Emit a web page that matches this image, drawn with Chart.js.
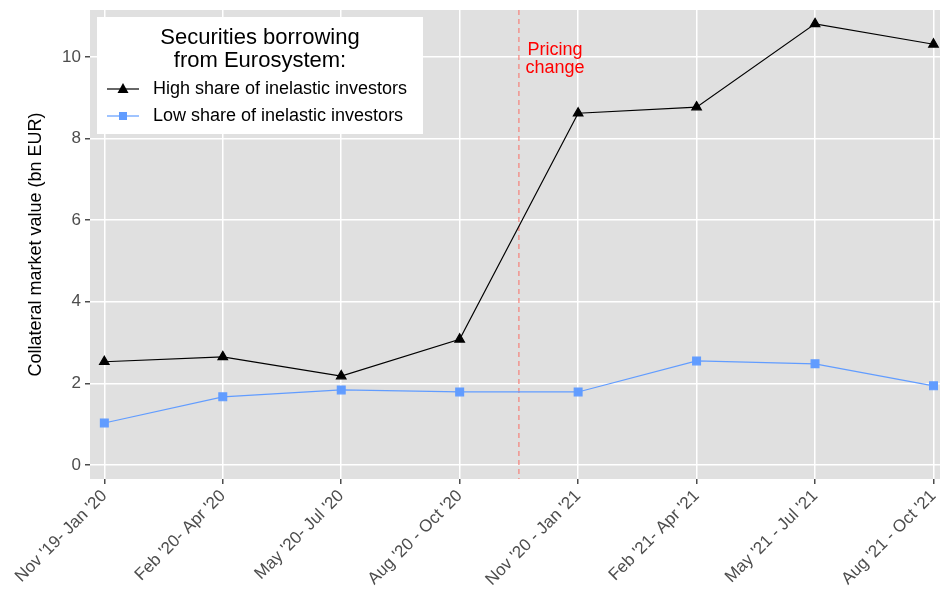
<!DOCTYPE html>
<html>
<head>
<meta charset="utf-8">
<script src="https://cdn.jsdelivr.net/npm/chart.js@4"></script>
<style>
  html, body { margin: 0; padding: 0; background: #fff; }
  #wrap { width: 940px; height: 592px; }
</style>
</head>
<body>
<div id="wrap"><canvas id="chart" width="940" height="592"></canvas></div>
<script>
const categories = ["Nov '19- Jan '20", "Feb '20- Apr '20", "May '20- Jul '20", "Aug '20 - Oct '20",
                    "Nov '20 - Jan '21", "Feb '21- Apr '21", "May '21 - Jul '21", "Aug '21 - Oct '21"];
const highShare = [2.53, 2.65, 2.18, 3.08, 8.62, 8.77, 10.81, 10.31];
const lowShare = [1.03, 1.67, 1.84, 1.79, 1.79, 2.55, 2.48, 1.94];
const yTicks = [0, 2, 4, 6, 8, 10];
const pricingChangeAt = 3.5;

const FONT = "'Liberation Sans', Arial, sans-serif";
const BLUE = '#619CFF';

// grey panel
const panel = {
    id: 'panel',
    beforeDraw(chart) {
        const a = chart.chartArea;
        const ctx = chart.ctx;
        ctx.save();
        ctx.fillStyle = '#E0E0E0';
        ctx.fillRect(a.left, a.top, a.right - a.left, a.bottom - a.top);
        ctx.restore();
    }
};

// dashed line + label
const pricing = {
    id: 'pricing',
    beforeDatasetsDraw(chart) {
        const ctx = chart.ctx;
        const a = chart.chartArea;
        const x = chart.scales.x.getPixelForValue(pricingChangeAt);
        ctx.save();
        ctx.strokeStyle = 'rgba(248,118,109,0.9)';
        ctx.lineWidth = 1.2;
        ctx.setLineDash([5, 4]);
        ctx.beginPath();
        ctx.moveTo(x, a.top);
        ctx.lineTo(x, a.bottom);
        ctx.stroke();
        ctx.setLineDash([]);
        ctx.fillStyle = '#FF0000';
        ctx.font = '18px ' + FONT;
        ctx.textAlign = 'center';
        ctx.textBaseline = 'middle';
        ctx.fillText('Pricing', x + 36, 50);
        ctx.fillText('change', x + 36, 68);
        ctx.restore();
    }
};

// legend box
const legendBox = {
    id: 'legendBox',
    afterDraw(chart) {
        const ctx = chart.ctx;
        ctx.save();
        ctx.fillStyle = '#fff';
        ctx.fillRect(97, 17, 326, 117);
        ctx.fillStyle = '#000';
        ctx.font = '22px ' + FONT;
        ctx.textAlign = 'center';
        ctx.textBaseline = 'middle';
        ctx.fillText('Securities borrowing', 260, 38);
        ctx.fillText('from Eurosystem:', 260, 61);

        const items = [
            { label: 'High share of inelastic investors', color: '#000', y: 89, style: 'triangle' },
            { label: 'Low share of inelastic investors', color: BLUE, y: 116, style: 'rect' }
        ];
        items.forEach(it => {
            ctx.strokeStyle = it.color;
            ctx.fillStyle = it.color;
            ctx.lineWidth = 1.2;
            ctx.beginPath();
            ctx.moveTo(107, it.y);
            ctx.lineTo(139, it.y);
            ctx.stroke();
            ctx.beginPath();
            if (it.style === 'triangle') {
                ctx.moveTo(123, it.y - 6);
                ctx.lineTo(128.5, it.y + 4);
                ctx.lineTo(117.5, it.y + 4);
                ctx.closePath();
            } else {
                ctx.rect(119, it.y - 4, 8, 8);
            }
            ctx.fill();
            ctx.fillStyle = '#000';
            ctx.font = '18px ' + FONT;
            ctx.textAlign = 'left';
            ctx.fillText(it.label, 153, it.y);
        });
        ctx.restore();
    }
};

new Chart(document.getElementById('chart'), {
    type: 'line',
    data: {
        datasets: [{
            label: 'High share of inelastic investors',
            data: highShare.map((v, i) => ({ x: i, y: v })),
            borderColor: '#000',
            backgroundColor: '#000',
            borderWidth: 1.2,
            pointStyle: 'triangle',
            pointRadius: 5.5,
            pointHoverRadius: 5.5,
            tension: 0,
            clip: false
        }, {
            label: 'Low share of inelastic investors',
            data: lowShare.map((v, i) => ({ x: i, y: v })),
            borderColor: BLUE,
            backgroundColor: BLUE,
            borderWidth: 1.2,
            pointStyle: 'rect',
            pointRadius: 5.5,
            pointHoverRadius: 5.5,
            tension: 0,
            clip: false
        }]
    },
    options: {
        responsive: false,
        animation: false,
        layout: { autoPadding: false, padding: { top: 10, right: 0, left: 0, bottom: 0 } },
        plugins: {
            legend: { display: false },
            tooltip: { enabled: false }
        },
        scales: {
            x: {
                type: 'linear',
                min: -0.121,
                max: 7.055,
                afterBuildTicks(scale) {
                    scale.ticks = categories.map((c, i) => ({ value: i }));
                },
                afterFit(scale) {
                    scale.height = 113;
                    scale.paddingLeft = 0;
                    scale.paddingRight = 0;
                },
                grid: {
                    color: '#fff',
                    lineWidth: 1.5,
                    tickColor: '#4D4D4D',
                    tickLength: 5,
                    drawTicks: true
                },
                border: { display: false },
                ticks: {
                    autoSkip: false,
                    maxRotation: 45,
                    minRotation: 45,
                    padding: 2,
                    color: '#4D4D4D',
                    font: { family: FONT, size: 17 },
                    callback: v => categories[v]
                }
            },
            y: {
                min: -0.343,
                max: 11.15,
                afterBuildTicks(scale) {
                    scale.ticks = yTicks.map(v => ({ value: v }));
                },
                afterFit(scale) {
                    scale.width = 90;
                    scale.paddingTop = 0;
                    scale.paddingBottom = 0;
                },
                grid: {
                    color: '#fff',
                    lineWidth: 1.5,
                    tickColor: '#4D4D4D',
                    tickLength: 5
                },
                border: { display: false },
                ticks: {
                    color: '#4D4D4D',
                    padding: 4,
                    font: { family: FONT, size: 17 }
                },
                title: {
                    display: true,
                    text: 'Collateral market value (bn EUR)',
                    color: '#000',
                    font: { family: FONT, size: 18 },
                    padding: { top: 25, bottom: 6 }
                }
            }
        }
    },
    plugins: [panel, pricing, legendBox]
});
</script>
</body>
</html>
